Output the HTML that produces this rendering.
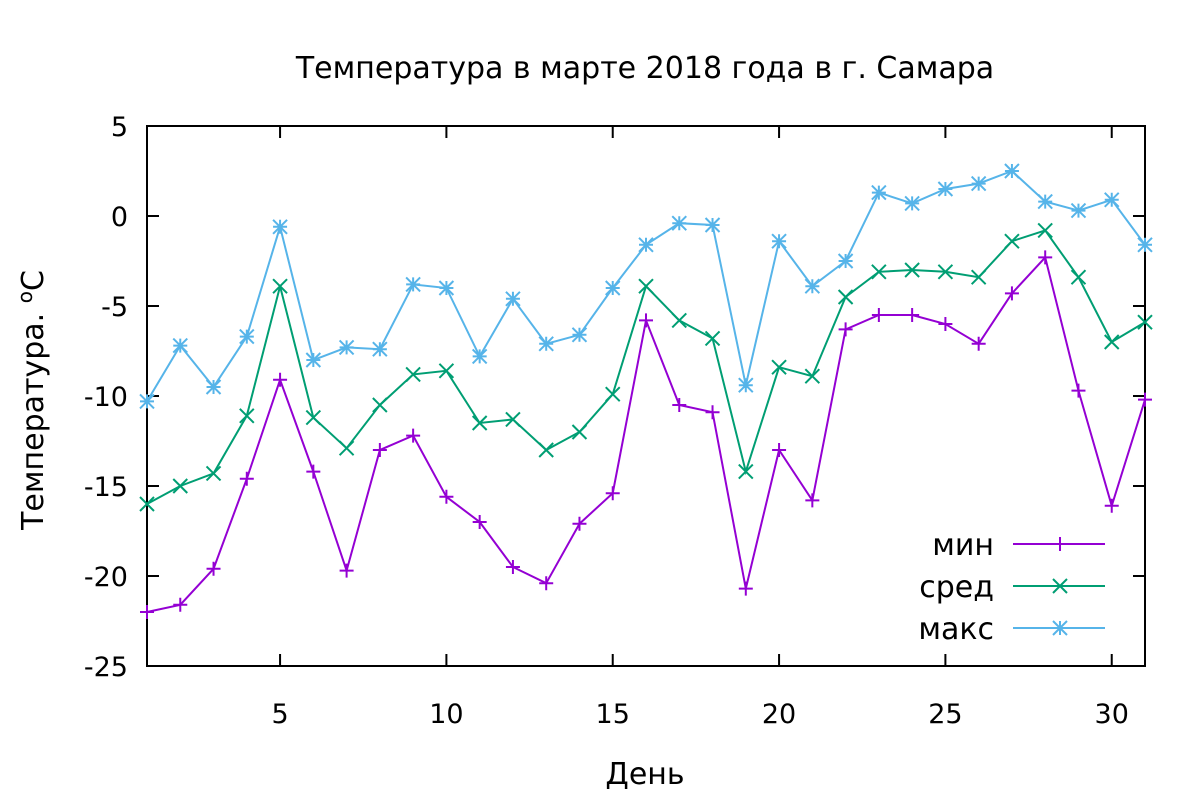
<!DOCTYPE html>
<html><head><meta charset="utf-8"><style>
body{margin:0;background:#fff}
svg text{font-family:"DejaVu Sans","Liberation Sans",sans-serif;fill:#000}
</style></head><body>
<svg id="chart" width="1200" height="800" xmlns="http://www.w3.org/2000/svg">
<text x="645" y="78" font-size="30" text-anchor="middle">Температура в марте 2018 года в г. Самара</text>
<text transform="translate(43,400) rotate(-90)" font-size="30" text-anchor="middle">Температура. <tspan font-size="20" dy="-11">o</tspan><tspan dy="11">C</tspan></text>
<text x="645" y="784" font-size="30" text-anchor="middle">День</text>
<g id="axes"></g>
<g id="series"></g>
<g id="legend"></g>
</svg>
<script>
const days=[1,2,3,4,5,6,7,8,9,10,11,12,13,14,15,16,17,18,19,20,21,22,23,24,25,26,27,28,29,30,31];
const minT=[-22,-21.6,-19.6,-14.6,-9.1,-14.2,-19.7,-13,-12.2,-15.6,-17,-19.5,-20.4,-17.1,-15.4,-5.8,-10.5,-10.9,-20.7,-13,-15.8,-6.3,-5.5,-5.5,-6,-7.1,-4.3,-2.3,-9.7,-16.1,-10.2];
const avgT=[-16,-15,-14.3,-11.1,-3.9,-11.2,-12.9,-10.5,-8.8,-8.6,-11.5,-11.3,-13,-12,-9.9,-3.9,-5.8,-6.8,-14.2,-8.4,-8.9,-4.5,-3.1,-3,-3.1,-3.4,-1.4,-0.8,-3.4,-7,-5.9];
const maxT=[-10.3,-7.2,-9.5,-6.7,-0.6,-8,-7.3,-7.4,-3.8,-4,-7.8,-4.6,-7.1,-6.6,-4,-1.6,-0.4,-0.5,-9.4,-1.4,-3.9,-2.5,1.3,0.7,1.5,1.8,2.5,0.8,0.3,0.9,-1.6];
const yTicks=[5,0,-5,-10,-15,-20,-25];
const xTicks=[5,10,15,20,25,30];
const seriesNames=["мин","сред","макс"];
const L=147,R=1145,T=126,B=666;
const X=d=>L+(d-1)*(R-L)/30;
const Y=v=>T+(5-v)*(B-T)/30;
const NS="http://www.w3.org/2000/svg";
function mk(tag,attrs,parent){const e=document.createElementNS(NS,tag);for(const k in attrs)e.setAttribute(k,attrs[k]);parent.appendChild(e);return e;}
const axes=document.getElementById('axes');
const frame=mk('rect',{x:L,y:T,width:R-L,height:B-T,fill:'none',stroke:'#000','stroke-width':2},axes);


yTicks.forEach(v=>{
 const t=mk('path',{d:`M${L} ${Y(v)}h12M${R} ${Y(v)}h-12`,stroke:'#000','stroke-width':2},axes);
 
 
 const tx=mk('text',{x:128,y:Y(v)+10,'font-size':27,'text-anchor':'end'},axes);tx.textContent=v;
 
 
});
xTicks.forEach(v=>{
 const t=mk('path',{d:`M${X(v)} ${B}v-12M${X(v)} ${T}v12`,stroke:'#000','stroke-width':2},axes);
 
 
 const tx=mk('text',{x:X(v),y:723,'font-size':27,'text-anchor':'middle'},axes);tx.textContent=v;
 
 
});
const colors=['#9400d3','#009e73','#56b4e9'];
const data=[minT,avgT,maxT];
const s=7;
function marker(kind,x,y){
 if(kind===0)return `M${x-s} ${y}h${2*s}M${x} ${y-s}v${2*s}`;
 if(kind===1)return `M${x-s} ${y-s}l${2*s} ${2*s}M${x-s} ${y+s}l${2*s} ${-2*s}`;
 return `M${x-s} ${y}h${2*s}M${x} ${y-s}v${2*s}M${x-s} ${y-s}l${2*s} ${2*s}M${x-s} ${y+s}l${2*s} ${-2*s}`;
}
const sg=document.getElementById('series');
data.forEach((arr,i)=>{
 const g=mk('g',{},sg);
 
 
 const ln=mk('polyline',{points:arr.map((v,j)=>X(days[j])+','+Y(v)).join(' '),fill:'none',stroke:colors[i],'stroke-width':2},g);
 
 
 let d='';arr.forEach((v,j)=>{d+=marker(i,X(days[j]),Y(v));});
 const m=mk('path',{d:d,stroke:colors[i],'stroke-width':2,fill:'none'},g);
 
 
});
const lg=document.getElementById('legend');
[544,586,628].forEach((y,i)=>{
 const g=mk('g',{},lg);
 
 
 const t=mk('text',{x:994,y:y+11,'font-size':30,'text-anchor':'end'},g);t.textContent=seriesNames[i];
 mk('path',{d:`M1013 ${y}H1105`,stroke:colors[i],'stroke-width':2},g);
 mk('path',{d:marker(i,1060,y),stroke:colors[i],'stroke-width':2},g);
});
</script>
</body></html>
